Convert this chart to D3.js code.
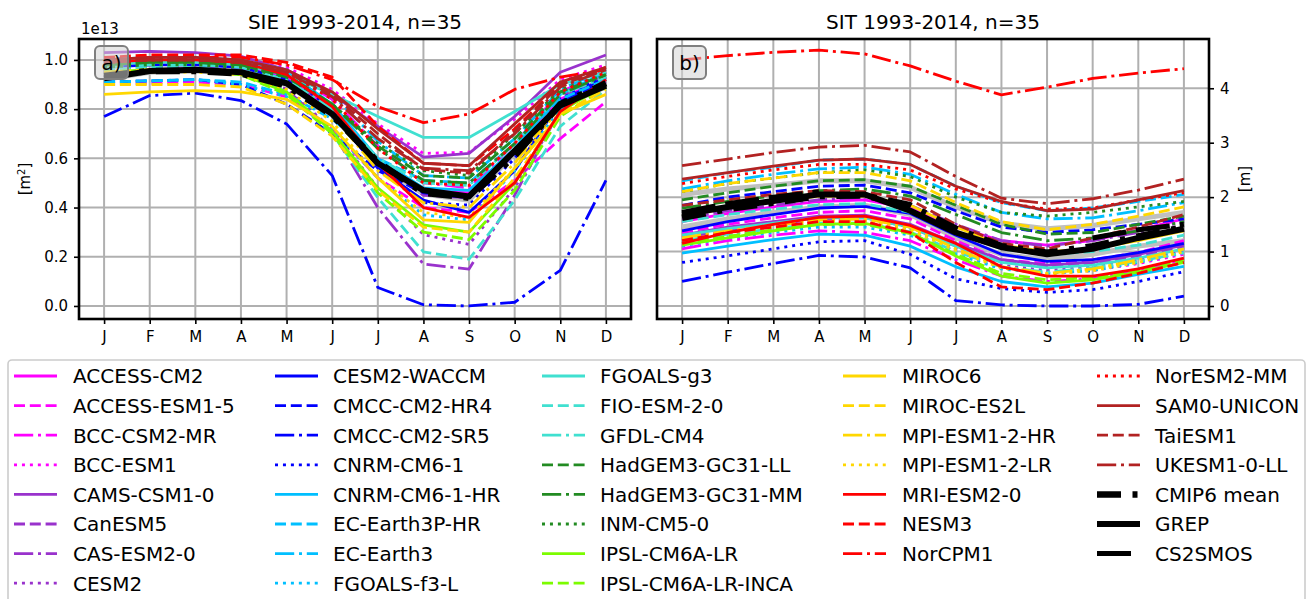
<!DOCTYPE html>
<html><head><meta charset="utf-8">
<script src="https://cdn.jsdelivr.net/npm/d3@7"></script>
<style>
body{margin:0;background:#fff;}
svg{display:block;font-family:"DejaVu Sans",sans-serif;}
</style></head>
<body>
<svg id="chart" width="1307" height="599"></svg>
<script>
const months = ["J","F","M","A","M","J","J","A","S","O","N","D"];
const sieTicks = [0,0.2,0.4,0.6,0.8,1.0];
const sitTicks = [0,1,2,3,4];
const modelNames = ["ACCESS-CM2","ACCESS-ESM1-5","BCC-CSM2-MR","BCC-ESM1","CAMS-CSM1-0","CanESM5","CAS-ESM2-0","CESM2",
 "CESM2-WACCM","CMCC-CM2-HR4","CMCC-CM2-SR5","CNRM-CM6-1","CNRM-CM6-1-HR","EC-Earth3P-HR","EC-Earth3","FGOALS-f3-L",
 "FGOALS-g3","FIO-ESM-2-0","GFDL-CM4","HadGEM3-GC31-LL","HadGEM3-GC31-MM","INM-CM5-0","IPSL-CM6A-LR","IPSL-CM6A-LR-INCA",
 "MIROC6","MIROC-ES2L","MPI-ESM1-2-HR","MPI-ESM1-2-LR","MRI-ESM2-0","NESM3","NorCPM1","NorESM2-MM",
 "SAM0-UNICON","TaiESM1","UKESM1-0-LL"];

// SIE, units of 1e13 m^2, J..D
const sieModels = [
 [0.97,0.99,0.99,0.98,0.93,0.80,0.60,0.47,0.46,0.63,0.84,0.93],
 [0.90,0.905,0.91,0.90,0.85,0.72,0.52,0.40,0.38,0.51,0.68,0.83],
 [0.98,0.99,0.99,0.98,0.95,0.84,0.65,0.50,0.48,0.66,0.87,0.95],
 [1.00,1.01,1.01,1.00,0.97,0.88,0.74,0.62,0.625,0.76,0.92,0.98],
 [1.03,1.035,1.03,1.015,0.96,0.86,0.73,0.605,0.62,0.77,0.95,1.02],
 [0.98,0.99,0.99,0.98,0.93,0.80,0.58,0.45,0.44,0.62,0.85,0.94],
 [0.97,0.98,0.98,0.96,0.88,0.71,0.40,0.17,0.15,0.45,0.80,0.91],
 [0.96,0.97,0.97,0.95,0.88,0.72,0.48,0.29,0.25,0.48,0.79,0.91],
 [0.97,0.98,0.98,0.97,0.92,0.78,0.56,0.43,0.38,0.55,0.83,0.93],
 [0.91,0.915,0.92,0.90,0.82,0.70,0.55,0.46,0.44,0.62,0.82,0.92],
 [0.77,0.855,0.865,0.835,0.74,0.53,0.075,0.005,0.0,0.015,0.145,0.51],
 [0.99,1.00,1.00,0.99,0.94,0.80,0.57,0.42,0.41,0.60,0.84,0.94],
 [1.00,1.01,1.01,1.00,0.95,0.82,0.60,0.48,0.47,0.64,0.86,0.95],
 [0.91,0.915,0.92,0.91,0.86,0.76,0.60,0.51,0.50,0.66,0.84,0.92],
 [1.00,1.01,1.01,1.00,0.96,0.86,0.67,0.53,0.52,0.68,0.88,0.96],
 [0.91,0.915,0.92,0.90,0.85,0.72,0.52,0.37,0.35,0.55,0.80,0.90],
 [0.98,0.99,0.99,0.98,0.94,0.86,0.77,0.685,0.685,0.79,0.90,0.95],
 [0.96,0.97,0.97,0.95,0.87,0.70,0.44,0.22,0.19,0.43,0.73,0.88],
 [0.97,0.98,0.98,0.97,0.92,0.80,0.60,0.50,0.49,0.66,0.86,0.93],
 [0.98,0.99,0.99,0.98,0.93,0.82,0.65,0.53,0.52,0.68,0.87,0.94],
 [0.98,0.99,0.99,0.98,0.94,0.82,0.64,0.51,0.50,0.66,0.86,0.94],
 [0.97,0.98,0.98,0.97,0.93,0.82,0.66,0.55,0.53,0.70,0.88,0.94],
 [0.95,0.96,0.96,0.94,0.87,0.71,0.48,0.33,0.30,0.50,0.79,0.90],
 [0.95,0.96,0.96,0.94,0.86,0.70,0.46,0.30,0.27,0.47,0.77,0.89],
 [0.86,0.87,0.875,0.87,0.84,0.73,0.52,0.35,0.34,0.56,0.78,0.86],
 [0.90,0.90,0.90,0.89,0.82,0.69,0.47,0.32,0.30,0.52,0.78,0.88],
 [0.95,0.96,0.96,0.95,0.90,0.78,0.55,0.42,0.40,0.58,0.82,0.90],
 [0.94,0.95,0.95,0.94,0.88,0.75,0.52,0.38,0.36,0.56,0.81,0.89],
 [0.99,1.00,1.00,0.99,0.94,0.81,0.58,0.40,0.36,0.50,0.79,0.92],
 [1.01,1.02,1.02,1.02,0.99,0.93,0.73,0.58,0.57,0.72,0.90,0.97],
 [1.00,1.01,1.01,1.01,0.98,0.92,0.81,0.745,0.78,0.88,0.93,0.96],
 [0.99,1.00,1.00,0.99,0.95,0.84,0.64,0.50,0.49,0.66,0.87,0.95],
 [1.00,1.01,1.01,1.00,0.96,0.87,0.72,0.58,0.57,0.74,0.91,0.97],
 [0.99,1.00,1.00,0.99,0.95,0.86,0.70,0.555,0.54,0.71,0.90,0.96],
 [0.99,1.00,1.00,0.99,0.95,0.85,0.68,0.56,0.55,0.70,0.89,0.96]
];
const sieMean = [0.935,0.955,0.955,0.945,0.895,0.775,0.585,0.46,0.44,0.61,0.82,0.905];
const sieGrep = [0.925,0.955,0.96,0.95,0.905,0.78,0.58,0.47,0.445,0.63,0.815,0.895];
const sieGrepSpread = [0.92,0.95,0.955,0.945,0.90,0.775,0.575,0.455,0.43,0.62,0.81,0.89];

// SIT, metres, J..D
const sitModels = [
 [1.55,1.70,1.82,1.92,1.95,1.80,1.45,1.20,1.12,1.20,1.40,1.60],
 [1.35,1.50,1.62,1.72,1.75,1.60,1.20,0.85,0.78,0.85,0.98,1.20],
 [1.05,1.20,1.30,1.38,1.35,1.20,0.85,0.55,0.45,0.50,0.65,0.85],
 [1.15,1.30,1.40,1.50,1.50,1.35,1.00,0.70,0.60,0.65,0.78,0.95],
 [1.30,1.45,1.55,1.65,1.67,1.50,1.15,0.85,0.75,0.80,0.95,1.12],
 [1.25,1.40,1.50,1.60,1.62,1.45,1.10,0.82,0.72,0.78,0.92,1.08],
 [1.60,1.75,1.85,1.95,2.00,1.85,1.50,1.20,1.10,1.20,1.35,1.55],
 [1.20,1.35,1.45,1.55,1.55,1.40,1.05,0.75,0.65,0.72,0.85,1.00],
 [1.38,1.55,1.68,1.80,1.83,1.70,1.30,0.95,0.82,0.85,0.98,1.15],
 [1.85,2.00,2.10,2.20,2.22,2.08,1.75,1.45,1.35,1.40,1.50,1.60],
 [0.45,0.62,0.78,0.93,0.90,0.70,0.10,0.02,0.00,0.00,0.03,0.18],
 [0.80,0.92,1.05,1.18,1.20,0.95,0.50,0.32,0.25,0.30,0.45,0.63],
 [0.97,1.10,1.22,1.32,1.30,1.10,0.72,0.45,0.35,0.42,0.58,0.73],
 [2.30,2.45,2.55,2.68,2.70,2.60,2.20,1.90,1.75,1.80,1.92,2.05],
 [2.15,2.30,2.42,2.52,2.55,2.42,2.05,1.72,1.60,1.62,1.75,1.90],
 [1.10,1.25,1.35,1.45,1.45,1.30,0.95,0.68,0.60,0.65,0.80,0.98],
 [1.30,1.42,1.52,1.62,1.62,1.45,1.10,0.80,0.70,0.75,0.88,1.05],
 [1.55,1.68,1.78,1.86,1.88,1.72,1.35,1.05,0.95,1.00,1.12,1.30],
 [1.20,1.32,1.42,1.52,1.52,1.36,1.00,0.72,0.62,0.70,0.82,0.98],
 [1.95,2.08,2.20,2.30,2.32,2.20,1.85,1.50,1.32,1.35,1.50,1.65],
 [1.80,1.92,2.02,2.12,2.15,2.02,1.68,1.35,1.20,1.25,1.38,1.55],
 [2.10,2.25,2.35,2.45,2.50,2.38,2.00,1.72,1.65,1.72,1.82,1.92],
 [1.12,1.25,1.38,1.50,1.52,1.35,0.92,0.55,0.42,0.48,0.62,0.80],
 [1.15,1.28,1.40,1.50,1.50,1.33,0.95,0.60,0.48,0.52,0.66,0.84],
 [1.65,1.80,1.92,2.02,2.02,1.85,1.45,1.12,1.00,1.05,1.20,1.38],
 [2.10,2.25,2.35,2.45,2.45,2.30,1.90,1.55,1.40,1.50,1.65,1.82],
 [1.25,1.38,1.48,1.58,1.60,1.45,1.05,0.72,0.60,0.68,0.85,1.05],
 [1.22,1.35,1.45,1.55,1.56,1.40,1.02,0.70,0.58,0.65,0.80,1.00],
 [1.15,1.35,1.50,1.63,1.65,1.48,1.15,0.72,0.55,0.55,0.68,0.88],
 [1.20,1.35,1.45,1.55,1.55,1.35,0.80,0.35,0.30,0.42,0.60,0.80],
 [4.52,4.60,4.66,4.70,4.63,4.41,4.13,3.88,4.02,4.18,4.28,4.36],
 [2.25,2.38,2.50,2.60,2.60,2.50,2.15,1.90,1.78,1.80,1.95,2.08],
 [2.33,2.45,2.57,2.68,2.70,2.60,2.20,1.92,1.75,1.78,1.95,2.12],
 [1.85,1.95,2.05,2.12,2.10,1.95,1.50,1.15,1.05,1.25,1.45,1.68],
 [2.58,2.70,2.82,2.92,2.95,2.83,2.38,1.98,1.88,1.97,2.13,2.33]
];
const sitMean = [1.62,1.78,1.90,2.02,2.03,1.85,1.42,1.10,0.98,1.10,1.28,1.45];
const sitGrep = [1.68,1.82,1.93,2.05,2.05,1.75,1.35,1.08,0.95,1.05,1.25,1.42];
const sitCs2smos = [1.72,1.88,2.00,2.10,null,null,null,null,null,1.25,1.40,1.50];
const sitGrepUpper = [2.05,2.15,2.22,2.30,2.30,2.18,1.82,1.52,1.42,1.48,1.60,1.72];
const sitGrepLower = [1.45,1.60,1.72,1.82,1.85,1.68,1.25,0.95,0.85,0.95,1.10,1.20];

// styles
const colorCycle = ["#ff00ff","#ff00ff","#ff00ff","#ff00ff","#9932cc","#9932cc","#9932cc","#9932cc",
 "#0000ff","#0000ff","#0000ff","#0000ff","#00bfff","#00bfff","#00bfff","#00bfff",
 "#40e0d0","#40e0d0","#40e0d0","#228b22","#228b22","#228b22","#7cfc00","#7cfc00",
 "#ffd700","#ffd700","#ffd700","#ffd700","#ff0000","#ff0000","#ff0000","#ff0000",
 "#b22222","#b22222","#b22222"];
const styleCycle = ["solid","dashed","dashdot","dotted","solid","dashed","dashdot","dotted",
 "solid","dashed","dashdot","dotted","solid","dashed","dashdot","dotted",
 "solid","dashed","dashdot","dashed","dashdot","dotted","solid","dashed",
 "solid","dashed","dashdot","dotted","solid","dashed","dashdot","dotted",
 "solid","dashed","dashdot"];
const dashes = {solid:null, dashed:"11,4.8", dashdot:"19.2,4.8,3,4.8", dotted:"3,4.95"};
const LW = 2.8;

const svg = d3.select("#chart");
const FONT = "DejaVu Sans, sans-serif";

const panels = [
  {x0:79, x1:631, yDom:[-0.053,1.085], ticks:sieTicks, fmt:d3.format(".1f"), side:"left",
   title:"SIE 1993-2014, n=35", tag:"a)", models:sieModels, mean:sieMean, grep:sieGrep,
   grays:[sieGrepSpread], cs:null},
  {x0:657, x1:1209, yDom:[-0.239,4.905], ticks:sitTicks, fmt:d3.format("d"), side:"right",
   title:"SIT 1993-2014, n=35", tag:"b)", models:sitModels, mean:sitMean, grep:sitGrep,
   grays:[sitGrepUpper, sitGrepLower], cs:sitCs2smos}
];
const plotTop=39, plotBottom=319;

panels.forEach((p,pi)=>{
  const x = d3.scaleLinear().domain([-0.55,11.55]).range([p.x0,p.x1]);
  const y = d3.scaleLinear().domain(p.yDom).range([plotBottom,plotTop]);
  const g = svg.append("g");
  const clipId = "clip"+pi;
  svg.append("clipPath").attr("id",clipId).append("rect")
    .attr("x",p.x0).attr("y",plotTop).attr("width",p.x1-p.x0).attr("height",plotBottom-plotTop);
  const grid = g.append("g").attr("stroke","#b0b0b0").attr("stroke-width",2);
  months.forEach((m,i)=>grid.append("line").attr("x1",x(i)).attr("x2",x(i)).attr("y1",plotTop).attr("y2",plotBottom));
  p.ticks.forEach(t=>grid.append("line").attr("x1",p.x0).attr("x2",p.x1).attr("y1",y(t)).attr("y2",y(t)));

  const line = d3.line().defined(d=>d!=null).x((d,i)=>x(i)).y(d=>y(d));
  const lines = g.append("g").attr("clip-path",`url(#${clipId})`).attr("fill","none")
     .attr("stroke-linejoin","round");
  p.grays.forEach(arr=>{
    lines.append("path").attr("d",line(arr)).attr("stroke","#c0c0c0").attr("stroke-width",5);
  });
  p.models.forEach((arr,i)=>{
    lines.append("path").attr("d",line(arr)).attr("stroke",colorCycle[i]).attr("stroke-width",LW)
      .attr("stroke-dasharray",dashes[styleCycle[i]]);
  });
  lines.append("path").attr("d",line(p.grep)).attr("stroke","#000").attr("stroke-width",6);
  lines.append("path").attr("d",line(p.mean)).attr("stroke","#000").attr("stroke-width",6.5)
    .attr("stroke-dasharray","24,11.5,5,11.5");
  if(p.cs){
    lines.append("path").attr("d",line(p.cs)).attr("stroke","#000").attr("stroke-width",5)
      .attr("stroke-dasharray","34,10");
  }
  g.append("rect").attr("x",p.x0).attr("y",plotTop).attr("width",p.x1-p.x0).attr("height",plotBottom-plotTop)
    .attr("fill","none").attr("stroke","#000").attr("stroke-width",2.6);
  const xa = g.append("g").attr("transform",`translate(0,${plotBottom})`)
    .call(d3.axisBottom(x).tickValues(d3.range(12)).tickFormat(i=>months[i]).tickSize(5).tickPadding(7));
  const ya = g.append("g").attr("transform",`translate(${p.side==="left"?p.x0:p.x1},0)`)
    .call((p.side==="left"?d3.axisLeft(y):d3.axisRight(y)).tickValues(p.ticks).tickFormat(p.fmt).tickSize(5).tickPadding(6));
  [xa,ya].forEach(a=>{
    a.select(".domain").remove();
    a.selectAll(".tick line").attr("stroke","#000").attr("stroke-width",1.6);
    a.selectAll(".tick text").attr("font-size",15).attr("font-family",FONT).attr("fill","#000");
  });
  g.append("text").attr("x",(p.x0+p.x1)/2).attr("y",29).attr("text-anchor","middle")
    .attr("font-size",20).attr("font-family",FONT).text(p.title);
  const bx = p.x0+16, by = 46;
  g.append("rect").attr("x",bx).attr("y",by).attr("width",33).attr("height",33).attr("rx",5)
    .attr("fill","#d3d3d3").attr("fill-opacity",0.55).attr("stroke","#7f7f7f").attr("stroke-width",2);
  g.append("text").attr("x",bx+16.5).attr("y",by+23.5).attr("text-anchor","middle")
    .attr("font-size",20).attr("font-family",FONT).text(p.tag);
});

svg.append("text").attr("x",81).attr("y",34).attr("font-size",15).attr("font-family",FONT).text("1e13");
const yl = svg.append("text").attr("transform","translate(30,179) rotate(-90)").attr("text-anchor","middle")
  .attr("font-size",15).attr("font-family",FONT);
yl.append("tspan").text("[m");
yl.append("tspan").attr("baseline-shift","super").attr("font-size",10).text("2");
yl.append("tspan").text("]");
svg.append("text").attr("transform","translate(1250,179) rotate(-90)").attr("text-anchor","middle")
  .attr("font-size",15).attr("font-family",FONT).text("[m]");

const legendItems = modelNames.map((n,i)=>({name:n, color:colorCycle[i], dash:dashes[styleCycle[i]], w:LW}))
  .concat([
    {name:"CMIP6 mean", color:"#000", dash:"24,11.5,5,11.5", w:6.5},
    {name:"GREP", color:"#000", dash:null, w:6},
    {name:"CS2SMOS", color:"#000", dash:"34,10", w:5}
  ]);
const colCounts = [8,8,8,7,7];
const colHandleX = [14,275,542,843,1097];
const colTextX = [73,333,600,902,1155];
const rowY0 = 376, rowDy = 29.6;
const leg = svg.append("g");
leg.append("rect").attr("x",8).attr("y",360).attr("width",1297).attr("height",260).attr("rx",4)
  .attr("fill","#fff").attr("fill-opacity",0.8).attr("stroke","#cccccc").attr("stroke-width",1.6);
let idx=0;
colCounts.forEach((cnt,c)=>{
  for(let r=0;r<cnt;r++){
    const it = legendItems[idx++];
    const yy = rowY0 + r*rowDy;
    leg.append("line").attr("x1",colHandleX[c]).attr("x2",colHandleX[c]+43).attr("y1",yy).attr("y2",yy)
      .attr("stroke",it.color).attr("stroke-width",it.w).attr("stroke-dasharray",it.dash);
    leg.append("text").attr("x",colTextX[c]).attr("y",yy+7.3).attr("font-size",20).attr("font-family",FONT)
      .text(it.name);
  }
});
</script>
</body></html>
